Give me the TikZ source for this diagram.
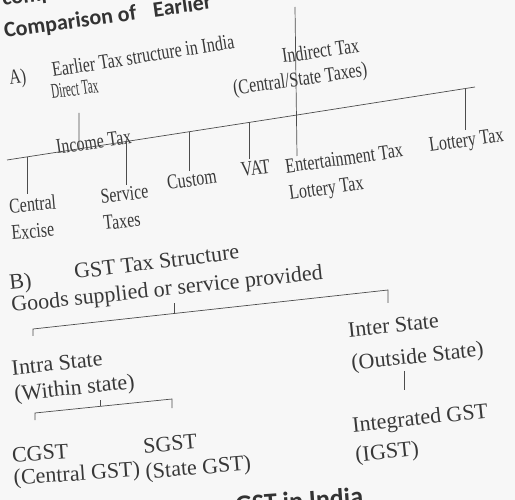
\documentclass[tikz,border=0pt]{standalone}
\usepackage{fontspec}
\usepackage{graphicx}
\setmainfont{Liberation Serif}
\newfontfamily\condfont[FakeStretch=0.76]{Liberation Serif}
\newfontfamily\headfont{Carlito}
\usetikzlibrary{calc}

\begin{document}
\begin{tikzpicture}[x=1pt,y=-1pt,
    oldtax/.style={font=\condfont\fontsize{21}{27}\selectfont,text=black!78,
                   inner sep=0pt,anchor=base west,rotate=8,align=left},
    gsttax/.style={font=\fontsize{22}{26}\selectfont,text=black!78,
                   inner sep=0pt,anchor=base west,rotate=6,align=left},
    heading/.style={font=\headfont\bfseries\fontsize{22}{26}\selectfont,
                    text=black!80,inner sep=0pt,anchor=base west},
    branch/.style={draw=black!70,line width=0.7pt}]
  % page
  \fill[black!3] (0,0) rectangle (515,500);
  \clip (0,0) rectangle (515,500);
  % headings, cut by the edge of the photo
  \node[heading,rotate=8] (prevline) at (3,6) {comp};
  \node[heading,rotate=8] (title) at (5,38) {Comparison of\hspace{12pt} Earlier};
  \node[heading,font=\headfont\bfseries\fontsize{26}{30}\selectfont,rotate=4]
    (footer) at (236,514) {GST in India};

  % A) earlier tax structure
  % (two-line labels are placed by the baseline of their last line)
  \node[oldtax] (labelA) at (10,85) {A)};
  \node[oldtax,rotate=1] (earlier) at (53,77) {Earlier Tax structure in India};
  \node[oldtax] (direct) at (52,99) {\scalebox{0.7}[1]{Direct Tax}};
  \node[oldtax] (indirect) at (283,63) {Indirect Tax};
  \node[oldtax] (cstaxes) at (234,95) {(Central/State Taxes)};
  \node[oldtax] (income) at (57,154) {Income Tax};
  \node[oldtax,rotate=-3] (central) at (12,240) {Central\\Excise};
  \node[oldtax,rotate=-2] (service) at (104,230) {Service\\Taxes};
  \node[oldtax] (custom) at (168,190) {Custom};
  \node[oldtax] (vat) at (242,177) {VAT};
  \node[oldtax] (entertain) at (290,200) {Entertainment Tax\\Lottery Tax};
  \node[oldtax] (lottery) at (430,152) {Lottery Tax};

  % main line of the old structure
  \coordinate (mainL) at (7,160);
  \coordinate (mainM) at (297,115);
  \coordinate (mainR) at (475,87);
  \draw[branch] (mainL) -- (mainM) -- (mainR);
  % stems of direct and indirect tax
  \coordinate (dirTop) at (79,113);
  \draw[branch] (dirTop) -- ($(mainL)!0.248!(mainM)$);
  \coordinate (indTop) at (295,7);
  \coordinate (indBot) at (297,156);
  \draw[branch] (indTop) -- (indBot);
  % ticks down to each tax
  \coordinate (tCentral) at ($(mainL)!0.069!(mainM)$);
  \coordinate (tService) at ($(mainL)!0.41!(mainM)$);
  \coordinate (tCustom) at ($(mainL)!0.63!(mainM)$);
  \coordinate (tVat) at ($(mainL)!0.835!(mainM)$);
  \coordinate (tLottery) at ($(mainM)!0.944!(mainR)$);
  \draw[branch,shorten >=2pt] (tCentral) -- (tCentral |- central.north);
  \draw[branch,shorten >=2pt] (tService) -- (tService |- service.north);
  \draw[branch,shorten >=2pt] (tCustom) -- (tCustom |- custom.north);
  \draw[branch,shorten >=2pt] (tVat) -- (tVat |- vat.north);
  \draw[branch,shorten >=3pt] (tLottery) -- (tLottery |- lottery.north);

  % B) GST structure
  \node[gsttax] (labelB) at (10,290) {B)};
  \node[gsttax,rotate=1] (gststruct) at (75,279) {GST Tax Structure};
  \node[gsttax] (goods) at (12,312) {Goods supplied or service provided};
  \node[gsttax] (intra) at (15,401) {Intra State\\(Within state)};
  \node[gsttax] (inter) at (352,370) {Inter State\\[7pt](Outside State)};
  \node[gsttax,rotate=-2] (cgst) at (14,485) {CGST\\[-3pt](Central GST)};
  \node[gsttax,rotate=-1] (sgst) at (146,479) {SGST\\(State GST)};
  \node[gsttax] (igst) at (356,462) {Integrated GST\\[4pt](IGST)};

  % intra / inter bracket
  \coordinate (goodsL) at (33,329);
  \coordinate (goodsR) at (388,290);
  \coordinate (goodsLend) at (33,336);
  \coordinate (goodsRend) at (388,303);
  \coordinate (goodsMid) at ($(goodsL)!0.397!(goodsR)$);
  \draw[branch] (goodsLend) -- (goodsL) -- (goodsR) -- (goodsRend);
  \draw[branch] (goodsMid) -- ++(0,-11);
  % cgst / sgst bracket
  \coordinate (subL) at (35,413);
  \coordinate (subR) at (172,399);
  \coordinate (subLend) at (35,420);
  \coordinate (subRend) at (172,408);
  \coordinate (subMid) at ($(subL)!0.48!(subR)$);
  \draw[branch] (subLend) -- (subL) -- (subR) -- (subRend);
  \draw[branch] (subMid) -- ++(0,-6);
  % inter state to igst
  \coordinate (interTick) at (404,371);
  \coordinate (igstTick) at (404,390);
  \draw[branch] (interTick) -- (igstTick);
\end{tikzpicture}
\end{document}
